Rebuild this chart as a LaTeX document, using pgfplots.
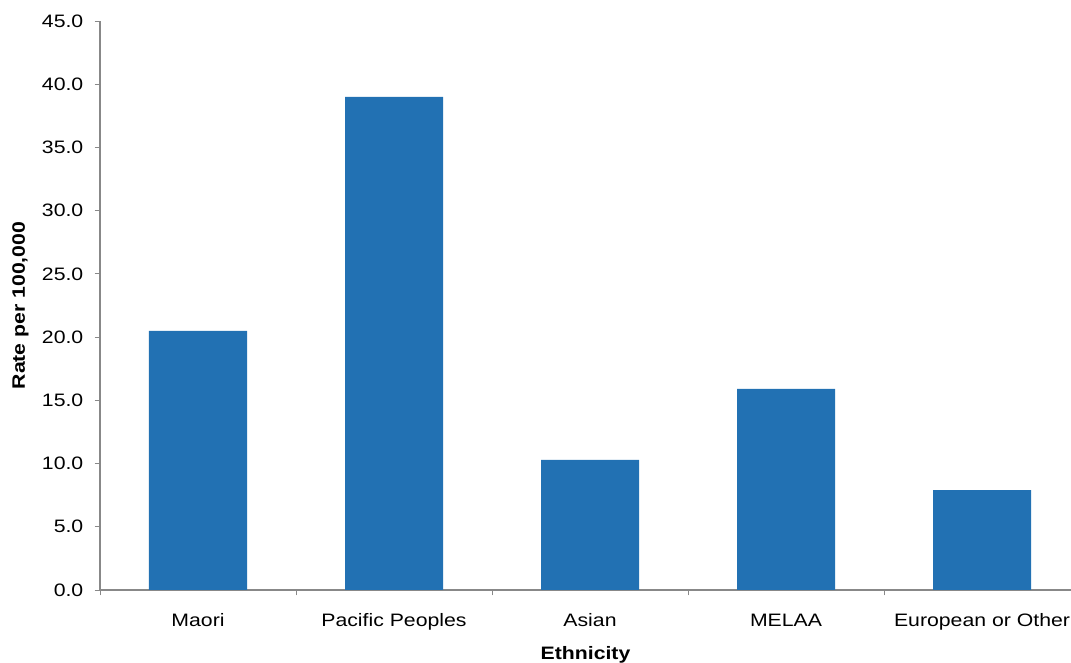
\documentclass[border=0pt]{standalone}
\usepackage{pgfplots}
\pgfplotsset{compat=1.18}
\usepackage{fontspec}
\setmainfont{Liberation Sans}[FakeStretch=1.18]
\definecolor{barblue}{RGB}{34,113,179}
\definecolor{axgray}{RGB}{136,136,136}
\begin{document}
\begin{tikzpicture}
\path[use as bounding box] (-75pt,-54.75pt) rectangle (728.25pt,442.5pt);
\begin{axis}[
  at={(0,0)}, anchor=south west,
  scale only axis,
  width=728.25pt, height=426.75pt,
  xmin=-0.5, xmax=4.454,
  ymin=0, ymax=45,
  axis lines*=left,
  axis line style={draw=axgray, line width=0.9pt, -},
  ytick={0,5,...,45},
  yticklabel style={/pgf/number format/.cd, fixed, fixed zerofill, precision=1, /tikz/.cd, font=\fontsize{13.5pt}{15pt}\selectfont, xshift=-5pt},
  /pgf/number format/assume math mode=true,
  xtick={0,1,2,3,4},
  xticklabels={Maori, Pacific Peoples, Asian, MELAA, European or Other},
  xticklabel style={font=\fontsize{13.5pt}{15pt}\selectfont, yshift=-12.5pt, text height=0.75em, text depth=0.22em},
  minor xtick={-0.5,0.5,1.5,2.5,3.5},
  major x tick style={draw=none},
  minor x tick style={draw=axgray, line width=0.6pt},
  y tick style={draw=axgray, line width=0.6pt},
  tick align=outside,
  major tick length=4pt,
  minor tick length=4pt,
  ylabel={\bfseries Rate per 100,000},
  ylabel style={font=\fontsize{13.5pt}{15pt}\selectfont, at={(-0.082,0.5)}, anchor=center},
  xlabel={\bfseries Ethnicity},
  xlabel style={font=\fontsize{13.5pt}{15pt}\selectfont, at={(0.5,0)}, anchor=north, yshift=-38.5pt},
  clip=false,
]
\addplot[ybar, bar width=0.5, fill=barblue, draw=none] coordinates {
  (0,20.5) (1,39.0) (2,10.3) (3,15.9) (4,7.9)
};
\end{axis}
\end{tikzpicture}
\end{document}
